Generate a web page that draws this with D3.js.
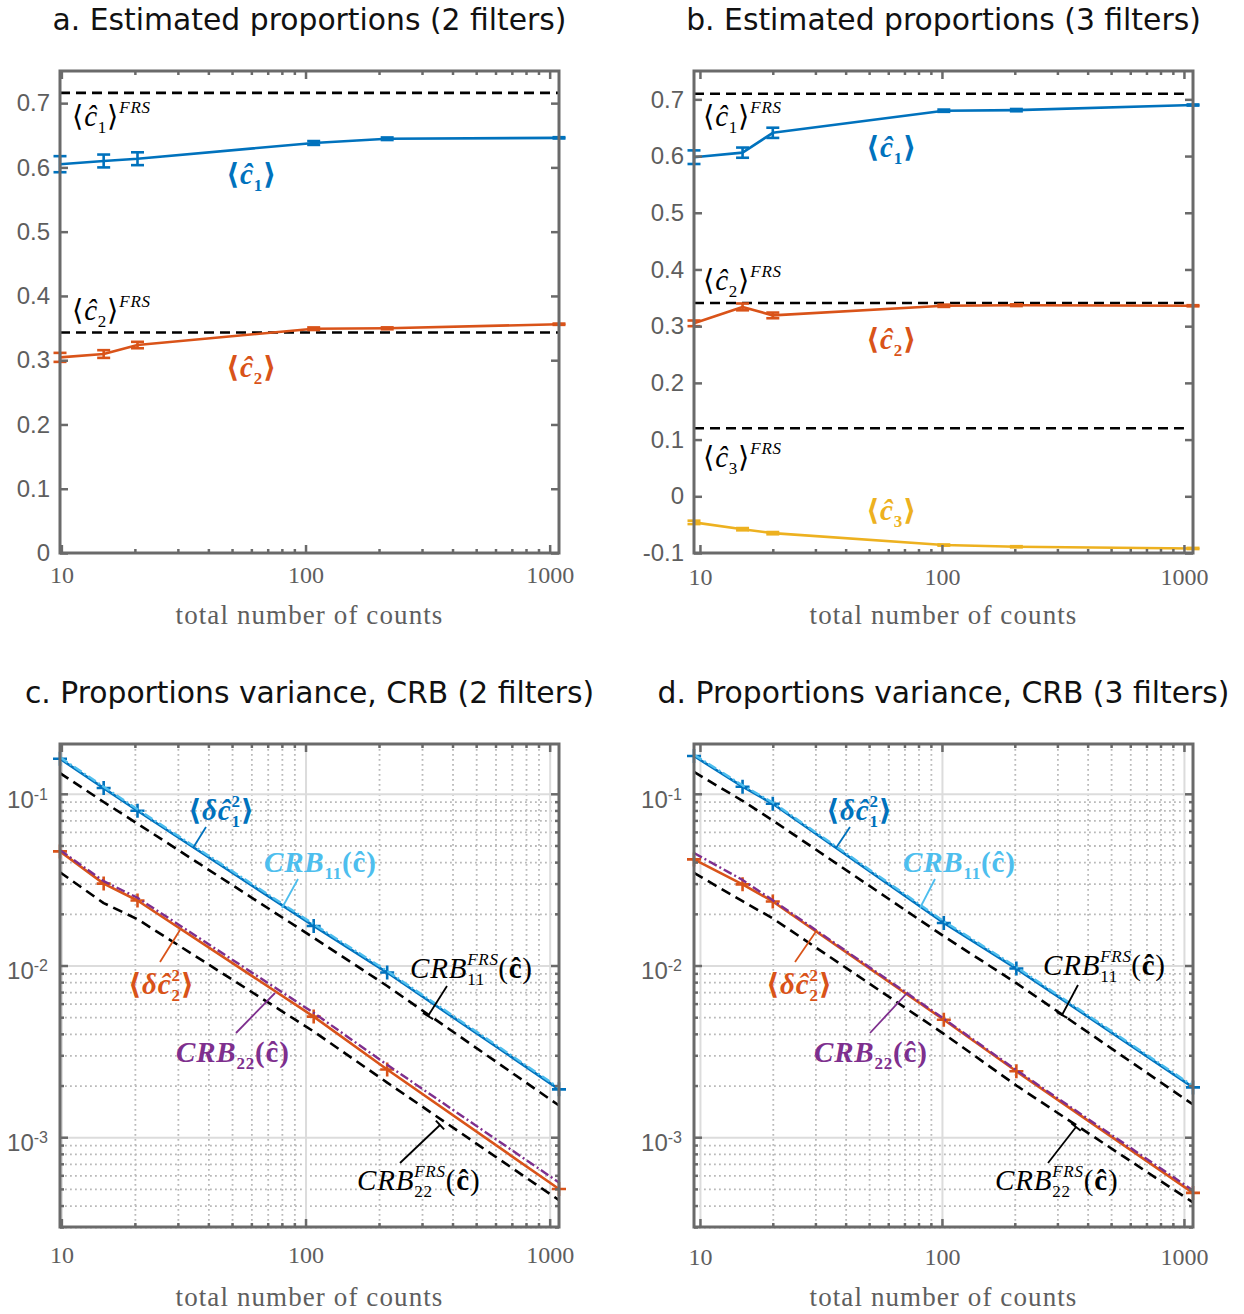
<!DOCTYPE html>
<html>
<head>
<meta charset="utf-8">
<script src="https://cdn.jsdelivr.net/npm/d3@7/dist/d3.min.js"></script>
<style>
html,body{margin:0;padding:0;background:#ffffff;}
svg{display:block;}
</style>
</head>
<body>
<svg id="chart" width="1244" height="1314"></svg>
<script>
// ---------------- data ----------------
const countsA = [9.87, 14.9, 20.5, 108, 216, 1092];
const meanC1A = [0.605, 0.610, 0.6135, 0.638, 0.6446, 0.646];
const errC1A  = [0.0125, 0.010, 0.010, 0.003, 0.002, 0.001];
const meanC2A = [0.3044, 0.3096, 0.3236, 0.349, 0.3496, 0.356];
const errC2A  = [0.007, 0.006, 0.005, 0.002, 0.0015, 0.001];
const frsA    = [0.716, 0.343];

const countsB = [9.45, 15.0, 20.0, 101.8, 203, 1090];
const meanC1B = [0.598, 0.606, 0.641, 0.680, 0.681, 0.690];
const errC1B  = [0.012, 0.009, 0.009, 0.002, 0.002, 0.001];
const meanC2B = [0.305, 0.334, 0.319, 0.336, 0.337, 0.336];
const errC2B  = [0.005, 0.006, 0.005, 0.002, 0.0015, 0.001];
const meanC3B = [-0.046, -0.058, -0.065, -0.086, -0.089, -0.092];
const errC3B  = [0.003, 0.002, 0.002, 0.001, 0.001, 0.001];
const frsB    = [0.710, 0.341, 0.120];
const frsEndB = 1000;

const varC1C    = [0.160, 0.108, 0.0797, 0.0170, 0.0091, 0.0019];
const crb11C    = [0.163, 0.110, 0.0812, 0.0174, 0.0093, 0.00194];
const crb11FrsC = [0.132, 0.0896, 0.0670, 0.0145, 0.0076, 0.00153];
const varC2C    = [0.0462, 0.0300, 0.0239, 0.00504, 0.00248, 0.000499];
const crb22C    = [0.0470, 0.0310, 0.0248, 0.00530, 0.00264, 0.000545];
const crb22FrsC = [0.0349, 0.0231, 0.0186, 0.00413, 0.00208, 0.00043];

const varC1D    = [0.166, 0.110, 0.0875, 0.0177, 0.0096, 0.00195];
const crb11D    = [0.169, 0.112, 0.0890, 0.0181, 0.0098, 0.00199];
const crb11FrsD = [0.134, 0.0910, 0.0700, 0.0148, 0.0079, 0.00155];
const varC2D    = [0.0415, 0.0297, 0.0236, 0.00483, 0.00242, 0.000474];
const crb22D    = [0.0452, 0.0315, 0.0240, 0.00490, 0.00246, 0.00049];
const crb22FrsD = [0.0346, 0.0237, 0.0188, 0.0040, 0.00200, 0.000417];

const xTickValues = [10, 100, 1000];
const yTicksA = [0, 0.1, 0.2, 0.3, 0.4, 0.5, 0.6, 0.7];
const yTicksB = [-0.1, 0, 0.1, 0.2, 0.3, 0.4, 0.5, 0.6, 0.7];
const yTicksLog = [1e-3, 1e-2, 1e-1];
const yDomainA = [0, 0.75];
const yDomainB = [-0.1, 0.75];
const yDomainLog = [3.0e-4, 0.195];

const titles = [
  "a. Estimated proportions (2 filters)",
  "b. Estimated proportions (3 filters)",
  "c. Proportions variance, CRB (2 filters)",
  "d. Proportions variance, CRB (3 filters)"
];
const xLabel = "total number of counts";

// ---------------- style ----------------
const AX = "#6a6a6a", TXT = "#5e5e5e";
const BLUE = "#0072BD", ORANGE = "#D95319", YELLOW = "#EDB120", PURPLE = "#7E2F8E", LIGHTBLUE = "#4DBEEE";
const SANS = "'Liberation Sans', Arial, sans-serif";
const SERIF = "'Liberation Serif', 'Times New Roman', serif";
const MATH = "'Liberation Serif', 'DejaVu Serif', serif";
const TITLEFONT = "'DejaVu Sans', Verdana, sans-serif";
const MSIZE = 29, SSIZE = 17, LS = 0.8;

const svg = d3.select("#chart");

const layout = {
  a: {left: 60,  top: 71,  w: 499, h: 482, xPad: 13, log: false},
  b: {left: 694, top: 71,  w: 499, h: 482, xPad: 15, log: false},
  c: {left: 60,  top: 744, w: 499, h: 483, xPad: 19, log: true},
  d: {left: 694, top: 744, w: 499, h: 483, xPad: 21, log: true}
};

function minorLog(dom) {
  const out = [];
  for (let e = -5; e <= 4; e++) for (let m = 2; m <= 9; m++) {
    const v = m * Math.pow(10, e);
    if (v >= dom[0] * 0.999 && v <= dom[1] * 1.001) out.push(v);
  }
  return out;
}

function makePanel(p, xDomain, yDomain) {
  const g = svg.append("g").attr("transform", `translate(${p.left},${p.top})`);
  const x = d3.scaleLog().domain(xDomain).range([0, p.w]);
  const y = (p.log ? d3.scaleLog() : d3.scaleLinear()).domain(yDomain).range([p.h, 0]);
  return {g, x, y, p};
}

function drawGrid(P, yMajor) {
  const {g, x, y, p} = P;
  const xMinor = minorLog(x.domain());
  const yMinor = minorLog(y.domain());
  const minorStyle = s => s.selectAll(".tick line").attr("stroke", "#b9b9b9").attr("stroke-width", 1.8).attr("stroke-dasharray", "1.8,3.2");
  const majorStyle = s => s.selectAll(".tick line").attr("stroke", "#dcdcdc").attr("stroke-width", 2);
  const gx1 = g.append("g").call(d3.axisBottom(x).tickValues(xMinor).tickSize(p.h).tickFormat(""));
  const gy1 = g.append("g").call(d3.axisLeft(y).tickValues(yMinor).tickSize(-p.w).tickFormat(""));
  const gx2 = g.append("g").call(d3.axisBottom(x).tickValues(xTickValues).tickSize(p.h).tickFormat(""));
  const gy2 = g.append("g").call(d3.axisLeft(y).tickValues(yMajor).tickSize(-p.w).tickFormat(""));
  [gx1, gy1].forEach(minorStyle);
  [gx2, gy2].forEach(majorStyle);
  [gx1, gy1, gx2, gy2].forEach(s => s.select(".domain").remove());
}

function drawAxes(P, yMajor, yFmt) {
  const {g, x, y, p} = P;
  const xMinor = minorLog(x.domain());
  const ax = g.append("g").attr("color", AX);
  const parts = [];
  const bMaj = ax.append("g").attr("transform", `translate(0,${p.h})`)
    .call(d3.axisBottom(x).tickValues(xTickValues).tickSizeInner(-8).tickSizeOuter(0).tickPadding(p.xPad).tickFormat(d3.format("d")));
  bMaj.selectAll("text").attr("font-family", SERIF).attr("font-size", 24).attr("fill", TXT);
  parts.push(bMaj);
  parts.push(ax.append("g").attr("transform", `translate(0,${p.h})`)
    .call(d3.axisBottom(x).tickValues(xMinor).tickSizeInner(-4).tickSizeOuter(0).tickFormat("")));
  parts.push(ax.append("g").call(d3.axisTop(x).tickValues(xTickValues).tickSizeInner(-8).tickSizeOuter(0).tickFormat("")));
  parts.push(ax.append("g").call(d3.axisTop(x).tickValues(xMinor).tickSizeInner(-4).tickSizeOuter(0).tickFormat("")));
  const lMaj = ax.append("g").call(d3.axisLeft(y).tickValues(yMajor).tickSizeInner(-8).tickSizeOuter(0).tickPadding(p.log ? 12 : 10).tickFormat(yFmt));
  lMaj.selectAll("text").attr("font-family", SANS).attr("font-size", 24).attr("fill", TXT);
  parts.push(lMaj);
  parts.push(ax.append("g").attr("transform", `translate(${p.w},0)`)
    .call(d3.axisRight(y).tickValues(yMajor).tickSizeInner(-8).tickSizeOuter(0).tickFormat("")));
  if (p.log) {
    const yMinor = minorLog(y.domain());
    parts.push(ax.append("g").call(d3.axisLeft(y).tickValues(yMinor).tickSizeInner(-4).tickSizeOuter(0).tickFormat("")));
    parts.push(ax.append("g").attr("transform", `translate(${p.w},0)`)
      .call(d3.axisRight(y).tickValues(yMinor).tickSizeInner(-4).tickSizeOuter(0).tickFormat("")));
    lMaj.selectAll(".tick text").each(function(d) {
      const t = d3.select(this);
      t.text("10").attr("dy", "0.55em");
      t.append("tspan").attr("dy", "-0.5em").attr("font-size", 16).text(Math.round(Math.log10(d)));
    });
  }
  parts.forEach(s => { s.select(".domain").remove(); s.selectAll(".tick line").attr("stroke-width", 2.5); });
  ax.append("rect").attr("x", 0).attr("y", 0).attr("width", p.w).attr("height", p.h)
    .attr("fill", "none").attr("stroke", AX).attr("stroke-width", 3);
  g.append("text").attr("x", p.w / 2).attr("y", p.h + (p.log ? 79 : 71))
    .attr("text-anchor", "middle").attr("font-family", SERIF).attr("font-size", 27)
    .attr("letter-spacing", 1.1).attr("fill", TXT).text(xLabel);
}

function title(P, txt) {
  svg.append("text").attr("x", P.p.left + P.p.w / 2).attr("y", P.p.top - 41)
    .attr("text-anchor", "middle").attr("font-family", TITLEFONT).attr("font-size", 29.8)
    .attr("fill", "#111").text(txt);
}

function zipData(xs, ys, es) { return xs.map((n, i) => ({n, v: ys[i], e: es ? es[i] : 0})); }

function lineSeries(P, data, color, opts = {}) {
  const {g, x, y} = P;
  const line = d3.line().x(d => x(d.n)).y(d => y(d.v));
  const path = g.append("path").datum(data).attr("d", line).attr("fill", "none")
    .attr("stroke", color).attr("stroke-width", opts.width || 2.6).attr("stroke-linejoin", "round");
  if (opts.dash) path.attr("stroke-dasharray", opts.dash);
  if (opts.err) {
    const eg = g.append("g").attr("stroke", color).attr("stroke-width", 2.6);
    data.forEach(d => {
      const cx = x(d.n), y1 = y(d.v - d.e), y2 = y(d.v + d.e);
      eg.append("line").attr("x1", cx).attr("x2", cx).attr("y1", y1).attr("y2", y2);
      eg.append("line").attr("x1", cx - 6.5).attr("x2", cx + 6.5).attr("y1", y1).attr("y2", y1);
      eg.append("line").attr("x1", cx - 6.5).attr("x2", cx + 6.5).attr("y1", y2).attr("y2", y2);
    });
  }
  if (opts.plus) {
    g.append("g").selectAll("path").data(data).join("path")
      .attr("transform", d => `translate(${x(d.n)},${y(d.v)})`)
      .attr("d", "M-7,0H7M0,-7V7").attr("stroke", color).attr("stroke-width", 2.6).attr("fill", "none");
  }
}

function hline(P, value, n0, n1) {
  const {g, x, y} = P;
  g.append("line").attr("x1", x(n0)).attr("x2", x(n1)).attr("y1", y(value)).attr("y2", y(value))
    .attr("stroke", "#000").attr("stroke-width", 2.6).attr("stroke-dasharray", "10,6");
}

// ---- math labels ----
function mathText(g, x, y, parts, opt) {
  const t = g.append("text").attr("x", x).attr("y", y)
    .attr("font-family", MATH).attr("font-size", MSIZE).attr("letter-spacing", LS)
    .attr("fill", opt.color).attr("font-weight", opt.bold ? "bold" : "normal");
  let shift = 0;
  parts.forEach(pt => {
    const target = pt.sup ? -13 : (pt.sub ? 7 : 0);
    const s = t.append("tspan").attr("dy", target - shift).text(pt.t);
    shift = target;
    if (pt.sup || pt.sub) s.attr("font-size", SSIZE);
    if (pt.it) s.attr("font-style", "italic");
    if (pt.dx) s.attr("dx", pt.dx);
    if (pt.w) s.attr("font-weight", pt.w);
  });
  return t;
}
const frsParts = k => [{t: "⟨"}, {t: "ĉ", it: 1}, {t: k, sub: 1}, {t: "⟩"}, {t: "FRS", sup: 1, it: 1}];
const meanParts = k => [{t: "⟨"}, {t: "ĉ", it: 1}, {t: k, sub: 1}, {t: "⟩"}];
const deltaParts = k => [{t: "⟨"}, {t: "δ", it: 1}, {t: "ĉ", it: 1}, {t: "2", sup: 1}, {t: k, sub: 1, dx: -9.3}, {t: "⟩"}];
const crbParts = k => [{t: "CRB", it: 1}, {t: k, sub: 1}, {t: "(ĉ)"}];
const crbFrsParts = k => [{t: "CRB", it: 1}, {t: "FRS", sup: 1, it: 1}, {t: k, sub: 1, dx: -31.7}, {t: "(", dx: 13.1}, {t: "ĉ", w: "bold"}, {t: ")"}];

function leader(g, l, color, cap) {
  const [x1, y1, x2, y2] = l;
  g.append("line").attr("x1", x1).attr("y1", y1).attr("x2", x2).attr("y2", y2)
    .attr("stroke", color).attr("stroke-width", 1.8);
  if (cap) {
    const dx = x2 - x1, dy = y2 - y1, L = Math.hypot(dx, dy);
    const px = -dy / L * 6, py = dx / L * 6;
    g.append("line").attr("x1", x2 - px).attr("y1", y2 - py).attr("x2", x2 + px).attr("y2", y2 + py)
      .attr("stroke", color).attr("stroke-width", 2);
  }
}

const linFmt = d => String(+d.toFixed(1));

// ================= Panel a =================
const PA = makePanel(layout.a, d3.extent(countsA), yDomainA);
hline(PA, frsA[0], countsA[0], countsA[countsA.length - 1]);
hline(PA, frsA[1], countsA[0], countsA[countsA.length - 1]);
lineSeries(PA, zipData(countsA, meanC1A, errC1A), BLUE, {err: true});
lineSeries(PA, zipData(countsA, meanC2A, errC2A), ORANGE, {err: true});
drawAxes(PA, yTicksA, linFmt);
mathText(PA.g, 12, 55, frsParts("1"), {color: "#000"});
mathText(PA.g, 166, 113, meanParts("1"), {color: BLUE, bold: true});
mathText(PA.g, 12, 249, frsParts("2"), {color: "#000"});
mathText(PA.g, 166, 306, meanParts("2"), {color: ORANGE, bold: true});
title(PA, titles[0]);

// ================= Panel b =================
const PB = makePanel(layout.b, d3.extent(countsB), yDomainB);
frsB.forEach(v => hline(PB, v, countsB[0], frsEndB));
lineSeries(PB, zipData(countsB, meanC1B, errC1B), BLUE, {err: true});
lineSeries(PB, zipData(countsB, meanC2B, errC2B), ORANGE, {err: true});
lineSeries(PB, zipData(countsB, meanC3B, errC3B), YELLOW, {err: true});
drawAxes(PB, yTicksB, linFmt);
mathText(PB.g, 9, 55, frsParts("1"), {color: "#000"});
mathText(PB.g, 172, 86, meanParts("1"), {color: BLUE, bold: true});
mathText(PB.g, 9, 219, frsParts("2"), {color: "#000"});
mathText(PB.g, 172, 278, meanParts("2"), {color: ORANGE, bold: true});
mathText(PB.g, 9, 396, frsParts("3"), {color: "#000"});
mathText(PB.g, 172, 449, meanParts("3"), {color: YELLOW, bold: true});
title(PB, titles[1]);

// ================= Panels c, d =================
function variancePanel(p, counts, s, ann, ttl) {
  const P = makePanel(p, d3.extent(counts), yDomainLog);
  drawGrid(P, yTicksLog);
  lineSeries(P, zipData(counts, s.frs11), "#000", {dash: "10,6"});
  lineSeries(P, zipData(counts, s.frs22), "#000", {dash: "10,6"});
  lineSeries(P, zipData(counts, s.var1), BLUE, {plus: true});
  lineSeries(P, zipData(counts, s.var2), ORANGE, {plus: true});
  lineSeries(P, zipData(counts, s.crb11), LIGHTBLUE, {dash: "9,3,2,3", width: 2.4});
  lineSeries(P, zipData(counts, s.crb22), PURPLE, {dash: "9,3,2,3", width: 2.4});
  drawAxes(P, yTicksLog, d => d);
  ann.forEach(a => {
    mathText(P.g, a.x, a.y, a.parts, {color: a.color, bold: a.bold});
    leader(P.g, a.leader, a.color, a.cap);
  });
  title(P, ttl);
}

variancePanel(layout.c, countsA,
  {var1: varC1C, crb11: crb11C, frs11: crb11FrsC, var2: varC2C, crb22: crb22C, frs22: crb22FrsC},
  [
    {parts: deltaParts("1"), x: 128, y: 76, color: BLUE, bold: true, leader: [146, 83, 133, 104]},
    {parts: crbParts("11"), x: 204, y: 128, color: LIGHTBLUE, bold: true, leader: [238, 135, 222, 164]},
    {parts: crbFrsParts("11"), x: 350, y: 234, color: "#000", bold: false, leader: [387, 242, 368, 272], cap: true},
    {parts: deltaParts("2"), x: 68, y: 250, color: ORANGE, bold: true, leader: [100, 218, 120, 186]},
    {parts: crbParts("22"), x: 116, y: 318, color: PURPLE, bold: true, leader: [176, 289, 215, 249]},
    {parts: crbFrsParts("22"), x: 297, y: 446, color: "#000", bold: false, leader: [340, 419, 380, 381], cap: true}
  ], titles[2]);

variancePanel(layout.d, countsB,
  {var1: varC1D, crb11: crb11D, frs11: crb11FrsD, var2: varC2D, crb22: crb22D, frs22: crb22FrsD},
  [
    {parts: deltaParts("1"), x: 132, y: 76, color: BLUE, bold: true, leader: [156, 83, 142, 104]},
    {parts: crbParts("11"), x: 209, y: 128, color: LIGHTBLUE, bold: true, leader: [241, 135, 226, 164]},
    {parts: crbFrsParts("11"), x: 349, y: 231, color: "#000", bold: false, leader: [384, 241, 368, 271], cap: true},
    {parts: deltaParts("2"), x: 72, y: 250, color: ORANGE, bold: true, leader: [101, 218, 123, 186]},
    {parts: crbParts("22"), x: 120, y: 318, color: PURPLE, bold: true, leader: [176, 289, 214, 248]},
    {parts: crbFrsParts("22"), x: 301, y: 446, color: "#000", bold: false, leader: [354, 419, 382, 383], cap: true}
  ], titles[3]);
</script>
</body>
</html>
